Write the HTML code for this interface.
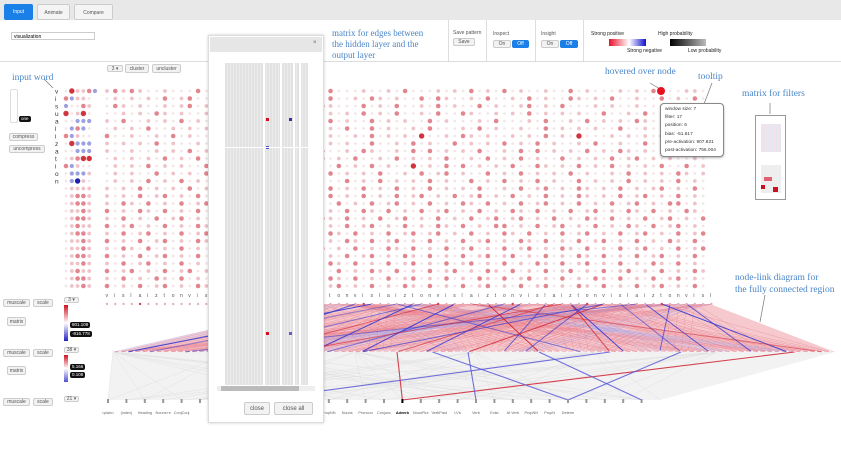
<!DOCTYPE html>
<html><head><meta charset="utf-8">
<style>
body{margin:0;width:841px;height:452px;overflow:hidden;background:#fff;font-family:"Liberation Sans",sans-serif;position:relative}
.a{position:absolute}
.btn{position:absolute;border:1px solid #ccc;background:#f2f2f2;border-radius:2px;font-size:5px;color:#555;text-align:center;box-sizing:border-box}
.ann{position:absolute;font-family:"Liberation Serif",serif;color:#4a86c8;font-size:9.5px;line-height:11px}
.tag{position:absolute;background:#111;color:#fff;font-size:4.5px;border-radius:2px;padding:0 2px;line-height:6px}
.lab{position:absolute;font-size:5px;color:#555}
</style></head><body>
<div class="a" style="left:0;top:0;width:841px;height:20px;background:#e8e8e8"></div>
<div class="btn" style="left:4px;top:4px;width:29px;height:16px;background:#1a7fe6;color:#fff;border:none;line-height:16px">Input</div>
<div class="btn" style="left:37px;top:4px;width:33px;height:16px;background:#f4f4f4;line-height:16px">Animate</div>
<div class="btn" style="left:74px;top:4px;width:39px;height:16px;background:#f4f4f4;line-height:16px">Compare</div>
<div class="a" style="left:0;top:61px;width:841px;height:1px;background:#ddd"></div>
<div class="a" style="left:11px;top:32px;width:84px;height:8px;border:1px solid #ccc;font-size:5px;line-height:8px;padding-left:2px;box-sizing:border-box">visualization</div>
<div class="a" style="left:448px;top:20px;width:1px;height:41px;background:#ddd"></div>
<div class="a" style="left:486px;top:20px;width:1px;height:41px;background:#ddd"></div>
<div class="a" style="left:535px;top:20px;width:1px;height:41px;background:#ddd"></div>
<div class="a" style="left:583px;top:20px;width:1px;height:41px;background:#ddd"></div>
<div class="lab" style="left:453px;top:30px">Save pattern</div>
<div class="btn" style="left:453px;top:38px;width:22px;height:8px;line-height:7px">Save</div>
<div class="lab" style="left:493px;top:31px">Inspect</div>
<div class="btn" style="left:493px;top:40px;width:18px;height:8px;line-height:7px">On</div>
<div class="btn" style="left:512px;top:40px;width:17px;height:8px;line-height:8px;background:#1a7fe6;color:#fff;border:none">Off</div>
<div class="lab" style="left:541px;top:31px">Insight</div>
<div class="btn" style="left:541px;top:40px;width:18px;height:8px;line-height:7px">On</div>
<div class="btn" style="left:560px;top:40px;width:18px;height:8px;line-height:8px;background:#1a7fe6;color:#fff;border:none">Off</div>
<div class="lab" style="left:591px;top:31px;color:#222">Strong positive</div>
<div class="a" style="left:609px;top:39px;width:20px;height:7px;background:linear-gradient(90deg,#e8102a,#fff)"></div>
<div class="a" style="left:629px;top:39px;width:17px;height:7px;background:linear-gradient(90deg,#fff,#1010d0)"></div>
<div class="lab" style="left:627px;top:48px;color:#222">Strong negative</div>
<div class="lab" style="left:658px;top:31px;color:#222">High probability</div>
<div class="a" style="left:670px;top:39px;width:36px;height:7px;background:linear-gradient(90deg,#000,#bbb)"></div>
<div class="lab" style="left:688px;top:48px;color:#222">Low probability</div>

<div class="btn" style="left:107px;top:65px;width:16px;height:7px;line-height:6px">3 ▾</div>
<div class="btn" style="left:125px;top:64px;width:24px;height:9px;line-height:8px">cluster</div>
<div class="btn" style="left:152px;top:64px;width:29px;height:9px;line-height:8px">uncluster</div>
<div class="a" style="left:10px;top:89px;width:6px;height:32px;border:1px solid #ddd;border-radius:2px"></div>
<div class="tag" style="left:19px;top:116px">one</div>
<div class="btn" style="left:9px;top:133px;width:29px;height:8px;line-height:7px">compress</div>
<div class="btn" style="left:9px;top:145px;width:36px;height:8px;line-height:7px">uncompress</div>

<div class="btn" style="left:3px;top:299px;width:27px;height:8px;line-height:7px">muscale</div>
<div class="btn" style="left:33px;top:299px;width:20px;height:8px;line-height:7px">scale</div>
<div class="btn" style="left:64px;top:297px;width:15px;height:6px;line-height:5px">3 ▾</div>
<div class="btn" style="left:7px;top:317px;width:19px;height:9px;line-height:8px">matrix</div>
<div class="a" style="left:64px;top:305px;width:4px;height:36px;background:linear-gradient(#d01020,#fff 50%,#2020c0)"></div>
<div class="tag" style="left:70px;top:322px">801.108</div>
<div class="tag" style="left:70px;top:331px">-816.778</div>
<div class="btn" style="left:3px;top:349px;width:27px;height:8px;line-height:7px">muscale</div>
<div class="btn" style="left:33px;top:349px;width:20px;height:8px;line-height:7px">scale</div>
<div class="btn" style="left:64px;top:347px;width:15px;height:6px;line-height:5px">38 ▾</div>
<div class="btn" style="left:7px;top:366px;width:19px;height:9px;line-height:8px">matrix</div>
<div class="a" style="left:64px;top:355px;width:4px;height:27px;background:linear-gradient(#d01020,#fff 50%,#5050d0)"></div>
<div class="tag" style="left:70px;top:364px">5.166</div>
<div class="tag" style="left:70px;top:372px">0.108</div>
<div class="btn" style="left:3px;top:398px;width:27px;height:8px;line-height:7px">muscale</div>
<div class="btn" style="left:33px;top:398px;width:20px;height:8px;line-height:7px">scale</div>
<div class="btn" style="left:64px;top:396px;width:15px;height:6px;line-height:5px">21 ▾</div>

<svg class="a" style="left:0;top:0" width="841" height="452" id="viz"></svg>

<div class="a" style="left:208px;top:35px;width:114px;height:386px;background:#fff;border:1px solid #ddd;box-shadow:0 0 3px rgba(0,0,0,.2)">
 <div class="a" style="left:1px;top:1px;width:112px;height:15px;background:#e6e6e6"></div>
 <div class="a" style="left:104px;top:4px;font-size:6px;color:#666">×</div>
 <div class="a" style="left:16px;top:27px;width:83px;height:322px;background:repeating-linear-gradient(90deg,#e2e2e2 0 2px,#ebebeb 2px 3px),#e4e4e4"></div>
 <div class="a" style="left:54px;top:27px;width:2px;height:322px;background:#fff"></div>
 <div class="a" style="left:71px;top:27px;width:2px;height:322px;background:#fff"></div>
 <div class="a" style="left:84px;top:27px;width:2px;height:322px;background:#fff"></div>
 <div class="a" style="left:90px;top:27px;width:2px;height:322px;background:#fff"></div>
 <div class="a" style="left:57px;top:82px;width:3px;height:3px;background:#d01020"></div>
 <div class="a" style="left:80px;top:82px;width:3px;height:3px;background:#3030b0"></div>
 <div class="a" style="left:57px;top:110px;width:3px;height:3px;background:#5050c0"></div>
 <div class="a" style="left:16px;top:111px;width:83px;height:1px;background:#fff"></div>
 <div class="a" style="left:57px;top:296px;width:3px;height:3px;background:#d01020"></div>
 <div class="a" style="left:80px;top:296px;width:3px;height:3px;background:#6060c0"></div>
 <div class="a" style="left:8px;top:350px;width:98px;height:5px;background:#eee"><div style="position:absolute;left:4px;top:0;width:78px;height:5px;background:#bbb"></div></div>
 <div class="btn" style="left:35px;top:366px;width:26px;height:13px;line-height:12px;font-size:6px">close</div>
 <div class="btn" style="left:65px;top:366px;width:39px;height:13px;line-height:12px;font-size:6px">close all</div>
</div>

<div class="ann" style="left:12px;top:73px">input word</div>
<div class="ann" style="left:332px;top:28px;font-size:9px;line-height:11px">matrix for edges between<br>the hidden layer and the<br>output layer</div>
<div class="ann" style="left:605px;top:67px">hovered over node</div>
<div class="ann" style="left:698px;top:72px">tooltip</div>
<div class="ann" style="left:742px;top:89px">matrix for filters</div>
<div class="ann" style="left:735px;top:272px;line-height:12px">node-link diagram for<br>the fully connected region</div>

<div class="a" style="left:660px;top:103px;width:64px;height:54px;border:1px solid #888;border-radius:4px;background:#fff;box-shadow:0 1px 2px rgba(0,0,0,.3);font-size:4.8px;line-height:8.2px;color:#333;padding:2px 0 0 4px;box-sizing:border-box">window size: 7<br>filter: 17<br>position: 6<br>bias: -51.617<br>pre-activation: 907.821<br>post-activation: 756.004</div>
<div class="a" style="left:755px;top:115px;width:31px;height:85px;border:1px solid #999;box-sizing:border-box"></div>
<div class="a" style="left:761px;top:124px;width:20px;height:28px;background:repeating-linear-gradient(90deg,#f0e4ea 0 3px,#e6e6f2 3px 4px)"></div>
<div class="a" style="left:761px;top:165px;width:20px;height:28px;background:#eee"></div>
<div class="a" style="left:764px;top:177px;width:8px;height:4px;background:#e06070"></div>
<div class="a" style="left:761px;top:185px;width:4px;height:4px;background:#c81020"></div>
<div class="a" style="left:773px;top:187px;width:5px;height:5px;background:#c81020"></div>

<script>
const NS='http://www.w3.org/2000/svg';
const svg=document.getElementById('viz');
function mk(t,a,parent){const e=document.createElementNS(NS,t);for(const k in a)e.setAttribute(k,a[k]);(parent||svg).appendChild(e);return e;}
const letters=['v','i','s','u','a','l','i','z','a','t','i','o','n'];
const leftBlock=['.3112b','2b11.','b..21','3.13.','..bbb','.b2b.','2b1..','.3bbb','..bbb','.1233','2b1..','.bbb1','.bB1.','.1111','.1221','.1221','.1121','.1221','.1211','.1221','.1121','.1121','.1221','.1121','.1211','.1221','.1121'];
const rows=[
'12121..1...2..1.1..2.1..12.2...1..1.2...1.1.2.1.2.1..1..2.1...1.1.21..11.',
'.1.1.1.2.12..1..1.2.1.2..1.2..1.21.1..2.21..1.2..1.2.1..21.1.2..1..2.1.2.',
'.21.1..1.12.1.1..1.2.1..1.21...2.1.2..1.2.1..2.1..12.1.2...1.1..1..1.1.1.',
'..1.1.21.1..1.2.1..1.12.1..1.1.2.1.2..1.2..21..1.1.2.1.1.1..2..1.2.1.1.1.',
'1.2..1.1.2.1.1.2..1..1.2.1.2.1..2.1.1..2.1...1.2...1.2..1.2.1.1.21..11.1.',
'.1.1.2..1.1.1.2..1..2.1..1.1.2..2.1..1.2...1.2.1..1..2.1.1.1..2..1.1.1.1.',
'2..1..1.2.1..1.1.1.2..1..2.1..1.2.1.1.3..1.21.1..1.1.2.1.3...1.1.1.2.1.1.',
'1.1.1.2.1..1.2.1.21.1..1.2.1.1..2..1.2.1..2.1.1.2.1.2.1..1.2..1..2.1.1.1.',
'1..1..1.1.2.1..21.1.2.1.1.2..1.21..1.2.2.1.1.2..1.2.2.1.1.2.1.21.1..2.1.1',
'.1.1.1.2.1.2.1.1.1.2.1..2.2.1.2..1.2.1.1.2..1.2.1.2.1..2.1.1.2.12.1.1..1.',
'.1.1.2.1.1..2.1.2.1.1..2.1..2.1.2.1..3.1.2.2.1.1.2..21.1.2.1.2.1.1.2..2.1',
'.1.1..2.1.1.2.1.1.2.1.2..1.2.1.1.2..1.2.12.1..2.1.2.1.1.2.1..1.2.1.1.21.1',
'.1.1.2.1.2.1.1..2.1.2.1.2.1..2.1.2.1.1.2.1..2.1.2.1.2.1..2.1.1.2.1.1.2.1.',
'1.1.2.1.1.2.1.2.1.1.2.2.1..2.1.2.1.2.1.2.1.1.2..1.2.12.1.21.1.2.1.12.1.2.',
'1.1.2.12.1.2.1.21.1.2.1.2.12.1.2.1.2.12.1.2.12.1.2.1.2.1.21.1.2.12.1.2.1.',
'1.21.2.1.2.12.1.2.12.1.22.1.2.1.2.12.1.2.1.21.2.1.2.12.1.2.1.2.12.1.22.1.',
'2.1.21.2.1.2.1.21.2.1.2.12.1.2.21.2.1.2.12.1.2.1.21.2.1.2.12.1.21.2.1.21.',
'1.2.1.2.12.1.2.1.2.12.1.2.21.2.1.2.12.1.2.1.2.12.12.1.2.1.21.2.1.2.12.1.2',
'2.12.1.2.1.21.2.1.2.1.21.2.1.2.12.1.2.1.21.2.1.22.1.2.12.1.2.1.21.2.12.1.',
'1.2.12.1.2.12.1.2.12.1.2.1.21.2.1.2.12.12.1.2.1.21.2.1.2.12.1.2.12.1.2.12',
'2.1.2.12.1.21.2.1.2.12.1.2.1.21.2.12.1.2.1.2.12.1.21.2.1.2.12.1.2.1.21.2.',
'1.21.2.1.2.1.21.2.12.1.2.12.1.2.1.21.2.1.2.12.1.2.12.1.21.2.1.2.12.1.2.12',
'2.1.2.12.1.2.12.1.2.1.21.2.1.2.12.1.21.2.1.2.12.12.1.2.1.21.2.1.2.12.1.2.',
'1.2.12.1.2.1.21.2.1.2.12.1.21.2.1.2.12.1.2.12.1.2.1.21.2.12.1.2.1.21.2.1.',
'2.12.1.2.12.1.2.1.21.2.12.1.2.1.21.2.1.2.12.1.21.2.1.2.12.1.2.12.1.2.1.21',
'1.2.1.21.2.1.2.12.1.2.12.1.21.2.1.2.12.1.2.1.21.2.12.1.2.1.21.2.1.2.12.1.',
'2.1.2.12.1.21.2.1.2.12.1.2.12.1.2.1.21.2.1.2.12.1.2.12.1.21.2.1.2.12.1.2.'];
const hiddenEdges=[[32,2,'b',0.9],[30,14,'b',0.8],[40,20,'r',0.6],[37,28,'b',0.9],[42,35,'b',0.9],[46,60,'r',0.9],[50,44,'b',0.8],[53,55,'b',0.7],[56,72,'b',0.9],[60,50,'r',0.8],[65,84,'b',0.8],[70,90,'b',0.8],[56,70,'r',0.7],[67,95,'b',0.9],[62,80,'b',0.6],[48,30,'b',0.6],[38,15,'b',0.6],[35,5,'b',0.5],[54,40,'r',0.6],[58,58,'b',0.7],[44,100,'r',0.5],[35,66,'b',0.6],[64,10,'b',0.6],[60,35,'b',0.7],[55,25,'r',0.6],[68,77,'b',0.7]];
const outEdges=[[40,16,'r'],[96,16,'r'],[45,25,'b'],[80,25,'b'],[50,20,'b'],[60,29,'b'],[70,8,'b']];
const outLabels=['<plain>','(index)','Heading','Nouns+e','ConjConj','','','','','','Other','NounNum','PropNN','Nouns','Pronoun','Conjunc','Adverb','NounPlur','VerbPast','LVb','Verb','Exist','At Verb','PropNN','PropN','Determ','','','',''];
function col(c){return {'.':['#f4e6e8',1.4],'1':['#efc2c7',1.9],'2':['#e3858e',2.3],'3':['#d2343f',2.7],'b':['#9aa0e0',2.1],'B':['#2020b0',2.7]}[c];}
const x0=107,dx=8.28,y0=91,dy=7.5;
rows.forEach((r,i)=>{for(let j=0;j<r.length;j++){const [c,rad]=col(r[j]);const e=mk('circle',{cx:x0+j*dx,cy:y0+i*dy,r:rad,fill:c});

}});
leftBlock.forEach((r,i)=>{for(let j=0;j<r.length;j++){const [c,rad]=col(r[j]);const e=mk('circle',{cx:66+j*5.8,cy:y0+i*dy,r:rad,fill:c});

}});
letters.forEach((l,i)=>{const t=mk('text',{x:55,y:y0+i*dy+2.5,'font-size':6.5,fill:'#333','font-family':'Liberation Sans'});t.textContent=l;

});
mk('line',{x1:44,y1:79,x2:53,y2:88,stroke:'#777','stroke-width':0.7});
mk('line',{x1:308,y1:58,x2:318,y2:50,stroke:'#777','stroke-width':0.7});
mk('line',{x1:650,y1:83,x2:660,y2:89,stroke:'#777','stroke-width':0.7});
mk('line',{x1:712,y1:83,x2:704,y2:104,stroke:'#777','stroke-width':0.7});
mk('line',{x1:770,y1:103,x2:770,y2:114,stroke:'#777','stroke-width':0.7});
mk('line',{x1:765,y1:295,x2:760,y2:322,stroke:'#777','stroke-width':0.7});
const hv=mk('circle',{cx:661,cy:91,r:4,fill:'#e8101e'});


const hx0=113,hdx=7.1,hy=352,tx0=107,tdx=8.28,ty=304;
const ox0=108,odx=18.4,oy=400;
const gf=mk('polygon',{points:`113,${hy} 835,${hy} 660,${oy} 108,${oy}`,fill:'#f2f2f2'});


for(let k=0;k<50;k++){mk('line',{x1:hx0+((k*17)%102)*hdx,y1:hy,x2:ox0+((k*7)%31)*odx,y2:oy,stroke:'#ddd','stroke-width':0.4});}
const fan=mk('polygon',{points:`320,${ty} 710,${ty} 835,${hy} 115,${hy}`,fill:'#f5c9ce'});


for(let k=0;k<220;k++){const a=26+(k*7)%48,b=(k*13)%102;mk('line',{x1:tx0+a*tdx,y1:ty,x2:hx0+b*hdx,y2:hy,stroke:k%5==0?'#9a9ae8':'#e77b88','stroke-width':0.5,opacity:0.55});}
hiddenEdges.forEach(([a,b,c,o])=>{const e=mk('line',{x1:tx0+a*tdx,y1:ty,x2:hx0+b*hdx,y2:hy,stroke:c=='b'?'#3a3ad0':'#d02030','stroke-width':1,opacity:o});

});
for(let j=0;j<74;j++){const t=mk('text',{x:x0+j*dx-1.5,y:297,'font-size':5,fill:'#555'});t.textContent='vislaizton'[j%10];


const c=mk('circle',{cx:x0+j*dx,cy:ty,r:1.2,fill:j%9==4?'#d04050':'#e8b0b6'});

}
for(let j=0;j<102;j++){const c=mk('circle',{cx:hx0+j*hdx,cy:hy,r:1.3,fill:'#f7f7f7',stroke:'#ddd','stroke-width':0.3});

}
outEdges.forEach(([a,b,c])=>{const e=mk('line',{x1:hx0+a*hdx,y1:hy,x2:ox0+b*odx,y2:oy,stroke:c=='b'?'#5a5ad8':'#d02030','stroke-width':1.1,opacity:0.85});

});
outLabels.forEach((l,i)=>{const c=mk('rect',{x:ox0+i*odx-1,y:oy-1,width:2,height:4,fill:i==16?'#000':'#999'});


const t=mk('text',{x:ox0+i*odx,y:oy+14,'font-size':3.8,fill:i==16?'#000':'#666','text-anchor':'middle','font-weight':i==16?'bold':'normal'});t.textContent=l;

});
</script>
</body></html>
